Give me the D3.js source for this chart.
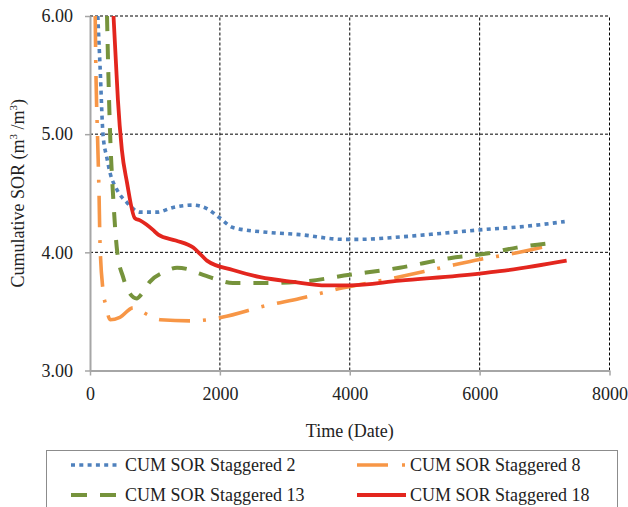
<!DOCTYPE html>
<html lang="en">
<head>
<meta charset="utf-8">
<title>Cumulative SOR</title>
<script src="https://d3js.org/d3.v7.min.js"></script>
<style>
  body { margin: 0; background: #fff; }
  svg { display: block; }
</style>
</head>
<body>
<script>
// values
const seriesNames = ["CUM SOR Staggered 2", "CUM SOR Staggered 8", "CUM SOR Staggered 13", "CUM SOR Staggered 18"];

const days2 = [120, 155, 200, 260, 310, 415, 570, 770, 1030, 1280, 1590, 1800, 2000, 2200, 2720, 3230, 3900, 4160, 4770, 5400, 6000, 6700, 7310];
const sor2  = [6.00, 5.57, 5.00, 4.80, 4.67, 4.53, 4.42, 4.34, 4.34, 4.38, 4.40, 4.37, 4.29, 4.21, 4.17, 4.15, 4.11, 4.11, 4.13, 4.16, 4.19, 4.22, 4.26];

const days8 = [80, 92, 115, 139, 154, 200, 245, 310, 460, 665, 895, 1080, 1570, 1820, 2030, 2720, 3230, 3900, 4570, 5490, 6000, 6420, 7100];
const sor8  = [6.00, 5.50, 5.00, 4.50, 4.08, 3.68, 3.55, 3.43, 3.45, 3.53, 3.47, 3.43, 3.42, 3.43, 3.45, 3.55, 3.61, 3.70, 3.77, 3.88, 3.94, 3.98, 4.06];

const days13 = [262, 280, 310, 360, 420, 510, 615, 720, 800, 920, 1130, 1340, 1490, 1690, 1900, 2200, 2720, 3230, 4000, 4770, 5540, 6110, 6570, 7130];
const sor13  = [6.00, 5.57, 5.00, 4.44, 4.00, 3.79, 3.65, 3.61, 3.65, 3.75, 3.83, 3.87, 3.86, 3.82, 3.78, 3.74, 3.74, 3.75, 3.81, 3.87, 3.95, 3.99, 4.04, 4.08];

const days18 = [362, 400, 430, 490, 570, 690, 770, 970, 1050, 1320, 1590, 1690, 1800, 2200, 2620, 3130, 3640, 4000, 4770, 6000, 6310, 7340];
const sor18  = [6.00, 5.60, 5.29, 4.87, 4.59, 4.29, 4.27, 4.19, 4.15, 4.10, 4.04, 3.99, 3.93, 3.85, 3.79, 3.75, 3.72, 3.72, 3.76, 3.82, 3.84, 3.93];

const xTicks = [0, 2000, 4000, 6000, 8000];
const yTicks = [3, 4, 5, 6];

const width = 628;
const height = 507;
const marginTop = 16;
const marginRight = 18.5;
const marginBottom = 136.5;
const marginLeft = 90;
const serif = "'Liberation Serif', 'Times New Roman', 'DejaVu Serif', serif";

const styles = [
  {color: "#4F81BD", width: 3.6, dash: "4,4.3"},
  {color: "#F79646", width: 3.6, dash: "31,13,3,13"},
  {color: "#76933C", width: 4, dash: "15,13"},
  {color: "#E3261E", width: 3.8, dash: null}
];

const series = [
  d3.zip(days2, sor2),
  d3.zip(days8, sor8),
  d3.zip(days13, sor13),
  d3.zip(days18, sor18)
];

const x = d3.scaleLinear().domain([0, 8000]).range([marginLeft, width - marginRight]);
const y = d3.scaleLinear().domain([3, 6]).range([height - marginBottom, marginTop]);

const svg = d3.select("body").append("svg")
  .attr("width", width)
  .attr("height", height)
  .attr("viewBox", [0, 0, width, height])
  .attr("font-family", serif);

// dashed grid
const grid = svg.append("g")
  .attr("stroke", "#000")
  .attr("stroke-width", 1)
  .attr("stroke-dasharray", "3,2");

grid.selectAll(".h")
  .data(yTicks.filter(d => d > 3))
  .join("line")
  .attr("x1", x(0)).attr("x2", x(8000))
  .attr("y1", d => y(d)).attr("y2", d => y(d));

grid.selectAll(".v")
  .data(xTicks.filter(d => d > 0))
  .join("line")
  .attr("x1", d => x(d)).attr("x2", d => x(d))
  .attr("y1", y(3)).attr("y2", y(6));

// axes
const yAxis = svg.append("g")
  .attr("transform", `translate(${marginLeft},0)`)
  .call(d3.axisLeft(y).tickValues(yTicks).tickFormat(d3.format(".2f")).tickSize(5).tickSizeOuter(0).tickPadding(12));

const xAxis = svg.append("g")
  .attr("transform", `translate(0,${height - marginBottom})`)
  .call(d3.axisBottom(x).tickValues(xTicks).tickFormat(d3.format("d")).tickSize(5).tickSizeOuter(0).tickPadding(12));

[xAxis, yAxis].forEach(g => {
  g.attr("font-family", serif).attr("font-size", 18);
  g.select(".domain").attr("stroke", "#A6A6A6").attr("stroke-width", 2);
  g.selectAll(".tick line").attr("stroke", "#A6A6A6").attr("stroke-width", 1.5);
  g.selectAll(".tick text").attr("fill", "#222");
});

// lines
const line = d3.line()
  .x(d => x(d[0]))
  .y(d => y(d[1]))
  .curve(d3.curveMonotoneX);

svg.append("g")
  .attr("fill", "none")
  .selectAll("path")
  .data(series)
  .join("path")
  .attr("stroke", (d, i) => styles[i].color)
  .attr("stroke-width", (d, i) => styles[i].width)
  .attr("stroke-dasharray", (d, i) => styles[i].dash)
  .attr("stroke-linejoin", "round")
  .attr("d", line);

// axis titles
svg.append("text")
  .attr("x", x(4000))
  .attr("y", 437)
  .attr("text-anchor", "middle")
  .attr("fill", "#222")
  .attr("font-size", 18)
  .text("Time (Date)");

const yt = svg.append("text")
  .attr("transform", `translate(24,${(y(3) + y(6)) / 2}) rotate(-90)`)
  .attr("text-anchor", "middle")
  .attr("fill", "#222")
  .attr("font-size", 18);
yt.append("tspan").text("Cumulative SOR (m");
yt.append("tspan").attr("dy", -7).attr("font-size", 11).text("3");
yt.append("tspan").attr("dy", 7).text(" /m");
yt.append("tspan").attr("dy", -7).attr("font-size", 11).text("3");
yt.append("tspan").attr("dy", 7).text(")");

// legend
const legend = svg.append("g");
legend.append("rect")
  .attr("x", 46.5).attr("y", 450.5)
  .attr("width", 571).attr("height", 70)
  .attr("fill", "none")
  .attr("stroke", "#8C8C8C");

const legendPos = [[71, 465], [357, 465], [71, 495], [357, 495]];
const item = legend.selectAll(".item")
  .data(seriesNames)
  .join("g")
  .attr("transform", (d, i) => `translate(${legendPos[i][0]},${legendPos[i][1]})`);

item.append("line")
  .attr("x1", 0).attr("x2", (d, i) => i === 1 ? 48 : 49)
  .attr("stroke", (d, i) => styles[i].color)
  .attr("stroke-width", (d, i) => styles[i].width)
  .attr("stroke-dasharray", (d, i) => i === 1 ? "31,14,3,20" : i === 2 ? "16,13" : styles[i].dash);

item.append("text")
  .attr("x", (d, i) => i % 2 === 0 ? 54 : 53)
  .attr("dy", "0.35em")
  .attr("fill", "#222")
  .attr("font-size", 18)
  .text(d => d);
</script>
</body>
</html>
